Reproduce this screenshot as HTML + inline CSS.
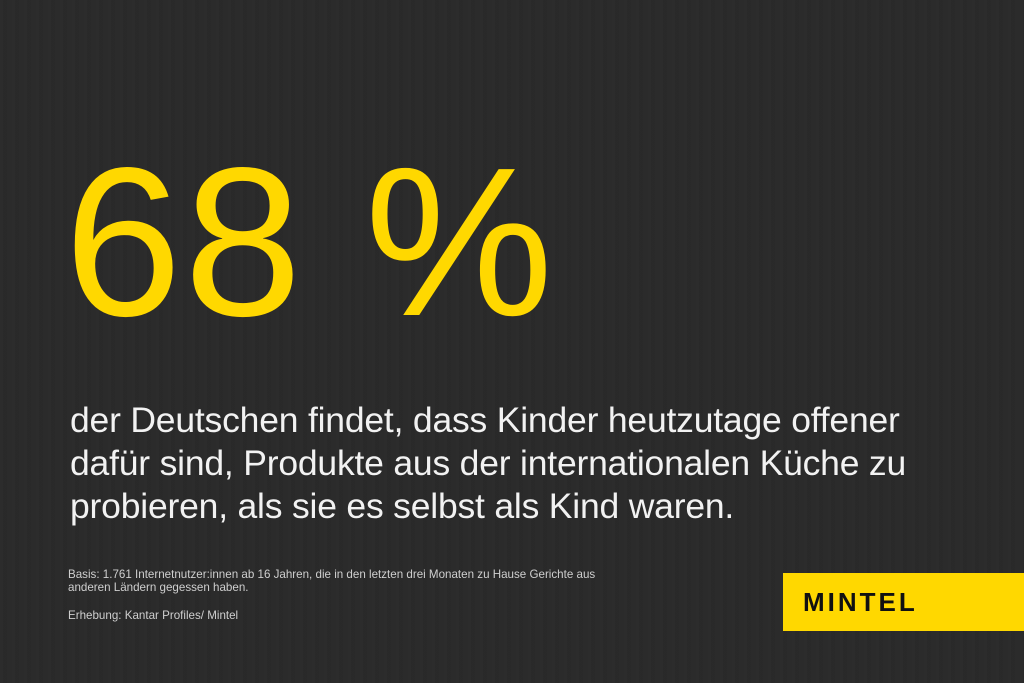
<!DOCTYPE html>
<html><head><meta charset="utf-8"><style>
html,body{margin:0;padding:0}
body{width:1024px;height:683px;background:#2a2a2a;position:relative;overflow:hidden;font-family:"Liberation Sans",sans-serif}
.bg{position:absolute;inset:0;background:repeating-linear-gradient(90deg,rgba(255,255,255,0.008) 0 3px,rgba(0,0,0,0.015) 3px 7px,rgba(255,255,255,0.005) 7px 12px)}
.big{position:absolute;left:64px;top:136px;font-size:212px;line-height:1;color:#ffd800;letter-spacing:2px;white-space:nowrap}
.txt{position:absolute;left:70px;top:399px;font-size:35.5px;line-height:43px;color:#f2f2f2;white-space:nowrap;letter-spacing:-0.2px}
.fn{position:absolute;left:68px;font-size:11.6px;line-height:13px;color:#cfcfcf;white-space:nowrap}
.logo{position:absolute;left:783px;top:573px;width:241px;height:58px;background:#ffd800}
.logo span{position:absolute;left:20px;top:16px;font-size:26px;font-weight:bold;color:#111;letter-spacing:3px;line-height:26px}
</style></head><body>
<div class="bg"></div>
<div class="big">68 %</div>
<div class="txt">der Deutschen findet, dass Kinder heutzutage offener<br>dafür sind, Produkte aus der internationalen Küche zu<br>probieren, als sie es selbst als Kind waren.</div>
<div class="fn" style="top:568px">Basis: 1.761 Internetnutzer:innen ab 16 Jahren, die in den letzten drei Monaten zu Hause Gerichte aus<br>anderen Ländern gegessen haben.</div>
<div class="fn" style="top:609px">Erhebung: Kantar Profiles/ Mintel</div>
<div class="logo"><span>MINTEL</span></div>
</body></html>
